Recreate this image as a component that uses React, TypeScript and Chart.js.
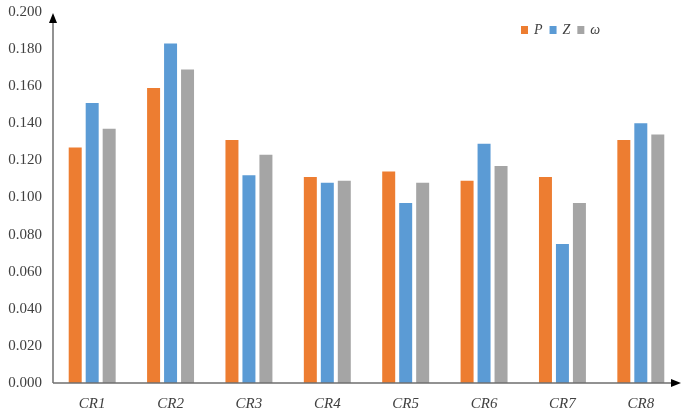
import React, { useEffect, useRef } from "react";
import { Chart, registerables } from "chart.js";

Chart.register(...registerables);

const categories = ["CR1", "CR2", "CR3", "CR4", "CR5", "CR6", "CR7", "CR8"];
const seriesNames = ["P", "Z", "ω"];
const pValues = [0.127, 0.159, 0.131, 0.111, 0.114, 0.109, 0.111, 0.131];
const zValues = [0.151, 0.183, 0.112, 0.108, 0.097, 0.129, 0.075, 0.14];
const wValues = [0.137, 0.169, 0.123, 0.109, 0.108, 0.117, 0.097, 0.134];
const seriesColors = ["#ED7D31", "#5B9BD5", "#A5A5A5"];
const yMin = 0;
const yMax = 0.2;
const yStep = 0.02;

const FONT = "'Liberation Serif', 'Times New Roman', serif";

const axesAndLegend = {
  id: "axesAndLegend",
  afterDraw(chart: any) {
    const ctx = chart.ctx;
    const a = chart.chartArea;
    const x0 = a.left;
    const y0 = a.bottom;
    ctx.save();
    // axis lines
    ctx.strokeStyle = "#6f6f6f";
    ctx.lineWidth = 1.5;
    ctx.beginPath();
    ctx.moveTo(x0, y0);
    ctx.lineTo(x0, a.top + 8);
    ctx.moveTo(x0, y0);
    ctx.lineTo(a.right - 6, y0);
    ctx.stroke();
    // arrow heads
    ctx.fillStyle = "#000";
    ctx.beginPath();
    ctx.moveTo(x0, a.top + 1);
    ctx.lineTo(x0 - 4, a.top + 11);
    ctx.lineTo(x0 + 4, a.top + 11);
    ctx.closePath();
    ctx.fill();
    const tipX = a.right + 1;
    ctx.beginPath();
    ctx.moveTo(tipX, y0);
    ctx.lineTo(tipX - 10, y0 - 4);
    ctx.lineTo(tipX - 10, y0 + 4);
    ctx.closePath();
    ctx.fill();
    // legend
    let lx = 521;
    const ly = 30;
    ctx.font = "italic 14px " + FONT;
    ctx.textBaseline = "middle";
    ctx.textAlign = "left";
    chart.data.datasets.forEach((ds: any) => {
      ctx.fillStyle = ds.backgroundColor;
      ctx.fillRect(lx, ly - 4, 7, 8);
      lx += 13;
      ctx.fillStyle = "#404040";
      ctx.fillText(ds.label, lx, ly);
      lx += ctx.measureText(ds.label).width + 7;
    });
    ctx.restore();
  },
};

export default function App() {
  const ref = useRef<HTMLCanvasElement | null>(null);
  useEffect(() => {
    if (!ref.current) return;
    const chart = new Chart(ref.current, {
      type: "bar",
      data: {
        labels: categories,
        datasets: [pValues, zValues, wValues].map((vals, i) => ({
          label: seriesNames[i],
          data: vals,
          backgroundColor: seriesColors[i],
          borderWidth: 0,
          categoryPercentage: 0.65,
          barPercentage: 0.765,
        })),
      },
      options: {
        responsive: false,
        animation: false,
        layout: { padding: { left: 0, right: 5, top: 12, bottom: 0 } },
        plugins: { legend: { display: false }, tooltip: { enabled: false } },
        scales: {
          x: {
            grid: { display: false, drawTicks: false },
            border: { display: false },
            ticks: {
              color: "#404040",
              font: { family: FONT, size: 15, style: "italic" },
              padding: 12,
            },
            afterFit: (s: any) => {
              s.height = 30;
              s.paddingLeft = 0;
              s.paddingRight = 0;
            },
          },
          y: {
            min: yMin,
            max: yMax,
            grid: { display: false, drawTicks: false },
            border: { display: false },
            ticks: {
              stepSize: yStep,
              color: "#404040",
              font: { family: FONT, size: 15 },
              padding: 11,
              callback: (v: any) => Number(v).toFixed(3),
            },
            afterFit: (s: any) => {
              s.width = 53;
              s.paddingTop = 0;
              s.paddingBottom = 0;
            },
          },
        },
      },
      plugins: [axesAndLegend],
    });
    return () => chart.destroy();
  }, []);
  return (
    <div style={{ position: "fixed", left: 0, top: 0, width: 685, height: 413, background: "#fff" }}>
      <canvas ref={ref} width={685} height={413} />
    </div>
  );
}
